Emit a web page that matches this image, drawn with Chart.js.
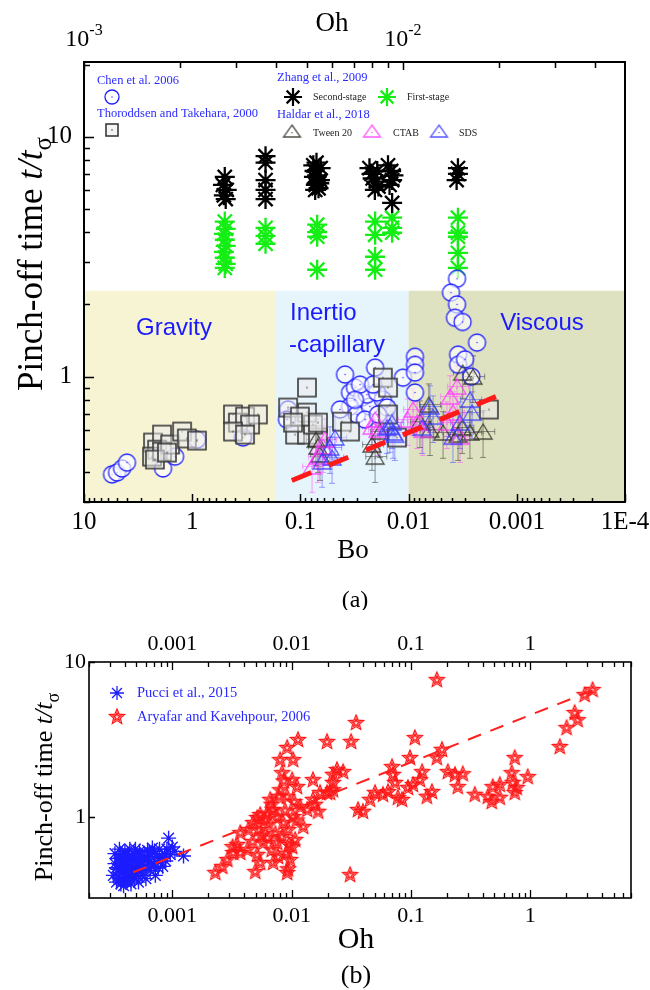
<!DOCTYPE html>
<html>
<head>
<meta charset="utf-8">
<script src="https://cdn.jsdelivr.net/npm/chart.js@4"></script>
<style>
  body { margin: 0; background: #fff; }
  #wrap { position: relative; width: 650px; height: 990px; }
  canvas { position: absolute; left: 0; }
  #chartA { top: 0; }
  #chartB { top: 610px; }
</style>
</head>
<body>
<div id="wrap">
  <canvas id="chartA" width="650" height="610"></canvas>
  <canvas id="chartB" width="650" height="380"></canvas>
</div>
<script>
// ---------- (a) pinch-off time t/t_sigma against Bond number ----------
// [Bo, t/t_sigma]
const chenData = [
  [5.51, 0.391], [4.95, 0.398], [4.45, 0.414], [4.01, 0.438],
  [1.86, 0.414], [1.44, 0.464], [0.904, 0.546], [0.339, 0.557],
  [0.130, 0.729], [0.133, 0.662],
  [0.0348, 0.858], [0.0313, 0.90], [0.0270, 0.818], [0.0348, 0.75], [0.030, 0.695],
  [0.0228, 0.75], [0.0243, 0.841], [0.0204, 1.09], [0.0173, 0.802], [0.0158, 0.743], [0.0196, 0.858],
  [0.0281, 0.926], [0.0213, 0.926], [0.0253, 0.662], [0.0192, 0.695], [0.0387, 1.02], [0.0313, 0.80],
  [0.0431, 0.729],
  [0.01127, 0.99], [0.00873, 1.21], [0.00873, 1.12], [0.00873, 1.04], [0.00873, 0.858],
  [0.00349, 1.235], [0.00349, 1.12], [0.00233, 1.386], [0.00301, 1.18], [0.00263, 1.0],
  [0.00357, 2.56], [0.00406, 2.24], [0.00357, 2.0], [0.00373, 1.76], [0.00317, 1.69]
];
const thoroddsenData = [
  [2.30, 0.531], [1.90, 0.573], [2.11, 0.496], [2.35, 0.464], [1.90, 0.487], [1.60, 0.521],
  [1.24, 0.59], [1.12, 0.552], [0.904, 0.541], [2.21, 0.451], [1.71, 0.482],
  [0.42, 0.695], [0.378, 0.643], [0.325, 0.681], [0.247, 0.695], [0.292, 0.631], [0.42, 0.59], [0.325, 0.573],
  [0.130, 0.743], [0.0869, 0.90], [0.112, 0.573], [0.0869, 0.573], [0.0688, 0.557], [0.0869, 0.708],
  [0.0765, 0.631], [0.101, 0.681], [0.117, 0.643], [0.0688, 0.643],
  [0.0413, 0.649], [0.0348, 0.59], [0.0173, 0.99], [0.0155, 0.90], [0.0155, 0.695], [0.0128, 0.557],
  [0.00181, 0.729]
];
const zhangSecond = [
  [0.50, 6.8], [0.52, 6.3], [0.48, 6.0], [0.51, 5.7], [0.49, 5.5],
  [0.21, 8.3], [0.21, 7.8], [0.21, 6.6], [0.21, 6.0], [0.21, 5.5],
  [0.076, 7.6], [0.074, 7.2], [0.070, 6.9], [0.066, 6.6], [0.072, 6.3], [0.068, 6.1],
  [0.075, 6.8], [0.065, 7.4], [0.071, 7.8], [0.067, 6.4], [0.073, 6.0],
  [0.023, 7.4], [0.022, 7.0], [0.020, 6.5], [0.019, 6.2], [0.0205, 6.0], [0.0215, 6.7], [0.0195, 7.2],
  [0.0155, 7.6], [0.0145, 7.2], [0.0138, 6.9], [0.0142, 6.6], [0.0150, 6.3], [0.0142, 5.3],
  [0.0035, 7.4], [0.0035, 7.0], [0.0036, 6.6]
];
const zhangFirst = [
  [0.50, 4.43], [0.49, 4.13], [0.51, 3.94], [0.50, 3.72], [0.49, 3.51], [0.51, 3.31], [0.50, 3.13], [0.49, 2.95], [0.50, 2.84],
  [0.21, 4.17], [0.21, 3.86], [0.21, 3.58],
  [0.070, 4.3], [0.070, 4.0], [0.070, 3.83], [0.070, 2.79],
  [0.0204, 4.43], [0.0204, 3.9], [0.0204, 3.16], [0.0204, 2.79],
  [0.0142, 4.6], [0.0142, 4.17], [0.0142, 3.98],
  [0.0035, 4.6], [0.0035, 3.98], [0.0035, 3.83], [0.0035, 3.28], [0.0035, 2.84]
];
const haldarTween = [
  [0.0204, 0.464], [0.0184, 0.59], [0.0218, 0.521], [0.0688, 0.511], [0.0659, 0.473], [0.0718, 0.546],
  [0.0065, 0.764], [0.00634, 0.601], [0.0048, 0.585], [0.0032, 0.613], [0.00271, 0.585], [0.00205, 0.59],
  [0.00316, 1.04], [0.00254, 1.0], [0.00785, 0.649], [0.00349, 0.573]
];
const haldarCtab = [
  [0.0688, 0.464], [0.0618, 0.511], [0.0593, 0.546], [0.078, 0.422],
  [0.0218, 0.619], [0.0204, 0.662], [0.0192, 0.601],
  [0.0091, 0.729], [0.00835, 0.643], [0.00736, 0.601], [0.0102, 0.662],
  [0.00414, 0.826], [0.00357, 0.909], [0.00389, 0.708], [0.00442, 0.643], [0.00335, 0.562]
];
const haldarSds = [
  [0.0479, 0.557], [0.0533, 0.506], [0.051, 0.46], [0.063, 0.443],
  [0.0158, 0.613], [0.0142, 0.643], [0.0139, 0.585], [0.0149, 0.619], [0.0134, 0.573],
  [0.00634, 0.75], [0.00594, 0.681], [0.0075, 0.613],
  [0.00271, 0.802], [0.00259, 0.708], [0.00335, 0.643], [0.00389, 0.562]
];
const haldarErrT = 0.22;
const haldarErrBo = 0.22;
const fitA = [[0.12, 0.369], [0.00156, 0.825]];
const regimeEdges = [10, 0.168, 0.01, 1e-4];
const regimeTop = 2.28;
const regimeNames = ['Gravity', 'Inertio', 'Viscous'];
const boTicks = [10, 1, 0.1, 0.01, 0.001, 1e-4];
const boTickLabels = ['10', '1', '0.1', '0.01', '0.001', '1E-4'];
const ohTopTicks = [1e-3, 1e-2];
const ohTopExps = ['-3', '-2'];
const tTicksA = [1, 10];

// ---------- (b) pinch-off time against Ohnesorge number ----------
// [Oh, t/t_sigma]
const pucciData = [
  [3.2e-4, 0.42], [3.3e-4, 0.50], [3.3e-4, 0.58], [3.4e-4, 0.38], [3.5e-4, 0.46], [3.5e-4, 0.54],
  [3.6e-4, 0.62], [3.6e-4, 0.40], [3.7e-4, 0.50], [3.8e-4, 0.44], [3.8e-4, 0.57], [3.9e-4, 0.36],
  [3.9e-4, 0.48], [4.0e-4, 0.60], [4.0e-4, 0.41], [4.1e-4, 0.53], [4.2e-4, 0.45], [4.2e-4, 0.39],
  [4.3e-4, 0.56], [4.3e-4, 0.49], [4.4e-4, 0.62], [4.5e-4, 0.43], [4.5e-4, 0.37], [4.6e-4, 0.52],
  [4.7e-4, 0.47], [4.8e-4, 0.58], [4.8e-4, 0.40], [4.9e-4, 0.44], [5.0e-4, 0.54], [5.1e-4, 0.49],
  [5.2e-4, 0.38], [5.3e-4, 0.60], [5.4e-4, 0.45], [5.5e-4, 0.52], [5.6e-4, 0.42], [5.8e-4, 0.56],
  [5.9e-4, 0.48], [6.0e-4, 0.40], [6.2e-4, 0.61], [6.3e-4, 0.51], [6.5e-4, 0.45], [6.6e-4, 0.57],
  [6.8e-4, 0.63], [7.0e-4, 0.50], [7.2e-4, 0.42], [7.5e-4, 0.55], [7.8e-4, 0.62], [8.0e-4, 0.52],
  [8.3e-4, 0.48], [8.6e-4, 0.58], [9.0e-4, 0.62], [9.3e-4, 0.73], [9.6e-4, 0.57], [1.0e-3, 0.64],
  [1.05e-3, 0.60], [1.24e-3, 0.56],
  [3.4e-4, 0.47], [3.5e-4, 0.41], [3.7e-4, 0.55], [3.7e-4, 0.37], [3.9e-4, 0.52], [4.0e-4, 0.45],
  [4.1e-4, 0.38], [4.2e-4, 0.58], [4.4e-4, 0.51], [4.4e-4, 0.41], [4.6e-4, 0.44], [4.7e-4, 0.55],
  [4.9e-4, 0.62], [5.0e-4, 0.42], [5.2e-4, 0.51], [5.4e-4, 0.57], [5.7e-4, 0.46], [6.1e-4, 0.53],
  [6.4e-4, 0.59], [6.7e-4, 0.48], [7.1e-4, 0.60], [7.6e-4, 0.47], [8.2e-4, 0.55], [8.8e-4, 0.52]
];
const aryafarData = [
  [2.29e-3, 0.435], [2.62e-3, 0.476], [2.89e-3, 0.528], [3.24e-3, 0.586], [3.50e-3, 0.660], [3.20e-3, 0.640],
  [3.71e-3, 0.788], [4.33e-3, 0.824], [4.76e-3, 0.915], [5.14e-3, 0.985], [5.45e-3, 1.03], [5.30e-3, 0.824],
  [4.70e-3, 0.690], [4.25e-3, 0.612], [3.71e-3, 0.586], [5.14e-3, 0.569], [5.45e-3, 0.505], [4.95e-3, 0.442],
  [5.78e-3, 0.680], [6.24e-3, 0.732], [6.40e-3, 0.888], [6.61e-3, 1.29], [7.00e-3, 1.11], [7.57e-3, 1.00],
  [8.01e-3, 1.49], [8.33e-3, 1.92], [8.01e-3, 2.33], [9.17e-3, 2.79], [1.13e-2, 3.14], [1.03e-2, 2.33],
  [1.01e-2, 1.73], [1.11e-2, 1.56], [9.17e-3, 1.35], [8.50e-3, 0.915], [8.33e-3, 0.743], [7.57e-3, 0.680],
  [6.80e-3, 0.612], [7.70e-3, 0.552], [7.00e-3, 0.505], [9.17e-3, 0.435], [9.30e-3, 0.460], [9.71e-3, 0.528],
  [1.01e-2, 0.640], [1.07e-2, 0.711], [9.35e-3, 0.824], [1.03e-2, 1.00], [1.18e-2, 1.16], [1.25e-2, 0.862],
  [1.35e-2, 1.11], [1.51e-2, 1.29], [1.51e-2, 1.73], [1.98e-2, 3.05], [2.22e-2, 1.87], [2.40e-2, 2.01],
  [1.73e-2, 1.43], [1.98e-2, 1.43], [2.22e-2, 1.49], [1.57e-2, 1.20], [1.67e-2, 1.08], [2.70e-2, 1.95],
  [2.22e-2, 1.66], [2.10e-2, 1.43], [3.47e-2, 4.04], [3.15e-2, 3.05], [3.09e-2, 0.422],
  [0.108, 3.23], [0.0982, 2.40], [0.165, 7.65], [0.165, 2.40], [0.182, 2.71], [0.0694, 2.10], [0.0707, 1.87],
  [0.124, 1.95], [0.119, 1.73], [0.036, 1.11], [0.0396, 1.08], [0.0454, 1.29], [0.050, 1.43], [0.0583, 1.39],
  [0.0642, 1.45], [0.0735, 1.66], [0.0778, 1.33], [0.0841, 1.29], [0.0944, 1.54], [0.104, 1.61], [0.136, 1.35],
  [0.150, 1.45], [0.204, 1.95], [0.234, 1.87], [0.247, 1.56], [0.272, 1.89], [0.343, 1.39], [0.441, 1.35],
  [0.476, 1.25], [0.485, 1.56], [0.556, 1.61], [0.556, 1.33], [0.700, 1.92], [0.742, 2.40], [0.714, 1.66],
  [0.771, 1.54], [0.742, 1.43], [0.953, 1.81], [1.77, 2.83], [2.02, 3.75], [2.36, 4.69], [2.50, 4.22],
  [2.86, 6.12], [3.33, 6.60],
  [6.0e-3, 0.95], [6.8e-3, 1.20], [7.3e-3, 0.78], [8.8e-3, 1.10], [9.5e-3, 0.66], [1.1e-2, 0.95],
  [5.6e-3, 0.76], [7.8e-3, 1.35], [8.6e-3, 1.70], [6.2e-3, 1.05], [9.0e-3, 0.58], [1.05e-2, 1.25]
];
const fitB = [[4.7e-4, 0.44], [3.4, 6.6]];
const ohTicksB = [0.001, 0.01, 0.1, 1];
const ohTickLabelsB = ['0.001', '0.01', '0.1', '1'];
const tTicksB = [1, 10];

const serif = '"Liberation Serif", "Times New Roman", serif';
const sans = '"Liberation Sans", Arial, sans-serif';
const regimeColors = ['#f7f4d4', '#e6f4fc', '#dfe2c0'];
const toXY = arr => arr.map(([x, y]) => ({ x, y }));

// marker images
function symbol(w, h, draw) {
  const c = document.createElement('canvas');
  c.width = w;
  c.height = h;
  draw(c.getContext('2d'), w / 2, h / 2);
  return c;
}
function circleMark(r) {
  const s = Math.ceil(2 * r + 4);
  return symbol(s, s, (g, cx, cy) => {
    g.beginPath();
    g.arc(cx, cy, r, 0, 2 * Math.PI);
    g.fillStyle = 'rgba(255,255,255,0.65)';
    g.fill();
    g.strokeStyle = '#1f1fff';
    g.lineWidth = 1.3;
    g.stroke();
    g.fillStyle = '#1f1fff';
    g.fillRect(cx - 0.6, cy - 0.6, 1.2, 1.2);
  });
}
function squareMark(a) {
  const s = Math.ceil(a + 4);
  return symbol(s, s, (g, cx, cy) => {
    g.fillStyle = 'rgba(235,235,235,0.55)';
    g.fillRect(cx - a / 2, cy - a / 2, a, a);
    g.strokeStyle = '#3a3a3a';
    g.lineWidth = 1.6;
    g.strokeRect(cx - a / 2, cy - a / 2, a, a);
    g.fillStyle = '#222';
    g.fillRect(cx - 0.6, cy - 0.6, 1.2, 1.2);
  });
}
function triangleMark(w, h, color) {
  return symbol(Math.ceil(w + 4), Math.ceil(h + 4), (g, cx, cy) => {
    g.beginPath();
    g.moveTo(cx, cy - h / 2);
    g.lineTo(cx + w / 2, cy + h / 2);
    g.lineTo(cx - w / 2, cy + h / 2);
    g.closePath();
    g.strokeStyle = color;
    g.lineWidth = 1.3;
    g.stroke();
    g.fillStyle = color;
    g.fillRect(cx - 0.6, cy + 1, 1.2, 1.2);
  });
}
function starMark(r) {
  const s = Math.ceil(2 * r + 4);
  return symbol(s, s, (g, cx, cy) => {
    const path = (ro, ri) => {
      g.beginPath();
      for (let k = 0; k < 10; k++) {
        const rr = k % 2 ? ri : ro;
        const ang = -Math.PI / 2 + k * Math.PI / 5;
        g.lineTo(cx + rr * Math.cos(ang), cy + rr * Math.sin(ang));
      }
      g.closePath();
    };
    path(r, r * 0.45);
    g.fillStyle = 'rgba(255,90,90,0.25)';
    g.fill();
    g.strokeStyle = '#ff1414';
    g.lineWidth = 1.2;
    g.stroke();
    path(r * 0.5, r * 0.22);
    g.stroke();
  });
}
const circleSym = circleMark(8.5);
const squareSym = squareMark(18);
const triTween = triangleMark(18, 15, 'rgba(50,50,40,0.85)');
const triCtab = triangleMark(18, 15, 'rgba(255,60,255,0.85)');
const triSds = triangleMark(18, 15, 'rgba(60,60,255,0.85)');
const starSym = starMark(8);

function asterisk(ctx, x, y, r, color, lw) {
  ctx.save();
  ctx.strokeStyle = color;
  ctx.lineWidth = lw;
  ctx.beginPath();
  for (let k = 0; k < 4; k++) {
    const dx = Math.cos(k * Math.PI / 4) * r, dy = Math.sin(k * Math.PI / 4) * r;
    ctx.moveTo(x - dx, y - dy);
    ctx.lineTo(x + dx, y + dy);
  }
  ctx.stroke();
  ctx.restore();
}
function put(ctx, img, x, y) {
  ctx.drawImage(img, x - img.width / 2, y - img.height / 2);
}
function text(ctx, str, x, y, font, color, align) {
  ctx.font = font;
  ctx.fillStyle = color || '#000';
  ctx.textAlign = align || 'center';
  ctx.textBaseline = 'middle';
  ctx.fillText(str, x, y);
}

// inward log ticks along one edge of the plot area
function logTicks(ctx, scale, edge, area, major, minor) {
  const lo = Math.min(scale.min, scale.max), hi = Math.max(scale.min, scale.max);
  ctx.beginPath();
  for (let d = Math.floor(Math.log10(lo)); d <= Math.ceil(Math.log10(hi)); d++) {
    for (let m = 1; m < 10; m++) {
      const v = m * Math.pow(10, d);
      if (v < lo * 0.999 || v > hi * 1.001) continue;
      const len = m === 1 ? major : minor;
      if (!len) continue;
      const p = Math.round(scale.getPixelForValue(v)) + 0.5;
      if (edge === 'bottom') { ctx.moveTo(p, area.bottom); ctx.lineTo(p, area.bottom - len); }
      if (edge === 'top') { ctx.moveTo(p, area.top); ctx.lineTo(p, area.top + len); }
      if (edge === 'left') { ctx.moveTo(area.left, p); ctx.lineTo(area.left + len, p); }
    }
  }
  ctx.stroke();
}

// "Pinch-off time t/t_sigma", rotated
function yTitle(ctx, cx, cy, size) {
  const parts = [
    { s: 'Pinch-off time ', f: `${size}px ${serif}`, dy: 0 },
    { s: 't/t', f: `italic ${size}px ${serif}`, dy: 0 },
    { s: 'σ', f: `${Math.round(size * 0.7)}px ${serif}`, dy: size * 0.28 }
  ];
  ctx.save();
  ctx.translate(cx, cy);
  ctx.rotate(-Math.PI / 2);
  ctx.fillStyle = '#000';
  ctx.textAlign = 'left';
  ctx.textBaseline = 'alphabetic';
  let total = 0;
  parts.forEach(p => { ctx.font = p.f; p.w = ctx.measureText(p.s).width; total += p.w; });
  let x = -total / 2;
  parts.forEach(p => { ctx.font = p.f; ctx.fillText(p.s, x, size * 0.33 + p.dy); x += p.w; });
  ctx.restore();
}

function logAxis(min, max, opts) {
  return Object.assign({
    type: 'logarithmic', min, max,
    grid: { display: false, drawTicks: false },
    border: { display: false }
  }, opts);
}

const plotA = {
  id: 'plotA',
  beforeDatasetsDraw(chart) {
    const { ctx, chartArea: a, scales: { x, y } } = chart;
    ctx.save();
    const top = y.getPixelForValue(regimeTop);
    for (let i = 0; i < regimeColors.length; i++) {
      const x0 = x.getPixelForValue(regimeEdges[i]);
      const x1 = x.getPixelForValue(regimeEdges[i + 1]);
      ctx.fillStyle = regimeColors[i];
      ctx.fillRect(x0, top, x1 - x0, a.bottom - top);
    }
    const blue = '#1a1aff';
    text(ctx, regimeNames[0], 174, 328, `24px ${sans}`, blue);
    text(ctx, regimeNames[1], 290, 313, `24px ${sans}`, blue, 'left');
    text(ctx, '-capillary', 289, 345, `24px ${sans}`, blue, 'left');
    text(ctx, regimeNames[2], 542, 323, `24px ${sans}`, blue);

    // error bars of the Haldar et al. series
    chart.data.datasets.forEach(ds => {
      if (!ds.errColor) return;
      ctx.strokeStyle = ds.errColor;
      ctx.lineWidth = 1;
      ctx.beginPath();
      ds.data.forEach(p => {
        const px = x.getPixelForValue(p.x), py = y.getPixelForValue(p.y);
        const yl = y.getPixelForValue(p.y * (1 - haldarErrT)), yh = y.getPixelForValue(p.y * (1 + haldarErrT));
        const xl = x.getPixelForValue(p.x * (1 - haldarErrBo)), xh = x.getPixelForValue(p.x * (1 + haldarErrBo));
        ctx.moveTo(px, yl); ctx.lineTo(px, yh);
        ctx.moveTo(xl, py); ctx.lineTo(xh, py);
        ctx.moveTo(px - 3, yl); ctx.lineTo(px + 3, yl);
        ctx.moveTo(px - 3, yh); ctx.lineTo(px + 3, yh);
        ctx.moveTo(xl, py - 3); ctx.lineTo(xl, py + 3);
        ctx.moveTo(xh, py - 3); ctx.lineTo(xh, py + 3);
      });
      ctx.stroke();
    });
    ctx.restore();
  },
  afterDraw(chart) {
    const { ctx, chartArea: a, scales } = chart;
    ctx.save();
    ctx.strokeStyle = '#000';
    ctx.lineWidth = 2;
    ctx.strokeRect(a.left, a.top, a.right - a.left, a.bottom - a.top);
    ctx.lineWidth = 1.5;
    logTicks(ctx, scales.x, 'bottom', a, 8, 4);
    logTicks(ctx, scales.xTop, 'top', a, 8, 6);
    logTicks(ctx, scales.y, 'left', a, 10, 6);

    // top Oh axis labels: 10^-3, 10^-2
    ohTopTicks.forEach((v, i) => {
      const px = scales.xTop.getPixelForValue(v);
      ctx.font = `24px ${serif}`;
      const wb = ctx.measureText('10').width;
      ctx.font = `16px ${serif}`;
      const we = ctx.measureText(ohTopExps[i]).width;
      const x0 = px - (wb + we) / 2;
      text(ctx, '10', x0, 40, `24px ${serif}`, '#000', 'left');
      text(ctx, ohTopExps[i], x0 + wb, 31, `16px ${serif}`, '#000', 'left');
    });
    text(ctx, 'Oh', 332, 24, `27px ${serif}`);
    text(ctx, 'Bo', 353, 551, `27px ${serif}`);
    text(ctx, '(a)', 355, 601, `24px ${serif}`);
    yTitle(ctx, 30, 264, 35);

    // legend
    const lb = '#2a2aff', lt = '#222';
    text(ctx, 'Chen et al. 2006', 97, 81, `12.5px ${serif}`, lb, 'left');
    put(ctx, circleMark(7), 112, 97);
    text(ctx, 'Thoroddsen and Takehara, 2000', 97, 114, `12.5px ${serif}`, lb, 'left');
    put(ctx, squareMark(12), 112, 130);
    text(ctx, 'Zhang et al., 2009', 277, 78, `12.5px ${serif}`, lb, 'left');
    asterisk(ctx, 293, 97, 9, '#000', 2.2);
    text(ctx, 'Second-stage', 313, 97, `10px ${serif}`, lt, 'left');
    asterisk(ctx, 387, 97, 9, '#14ee14', 2.2);
    text(ctx, 'First-stage', 407, 97, `10px ${serif}`, lt, 'left');
    text(ctx, 'Haldar et al., 2018', 277, 115, `12.5px ${serif}`, lb, 'left');
    put(ctx, triangleMark(17, 12, 'rgba(50,50,40,0.85)'), 292, 131);
    text(ctx, 'Tween 20', 313, 133, `10px ${serif}`, lt, 'left');
    put(ctx, triangleMark(17, 12, 'rgba(255,60,255,0.85)'), 372, 131);
    text(ctx, 'CTAB', 393, 133, `10px ${serif}`, lt, 'left');
    put(ctx, triangleMark(17, 12, 'rgba(60,60,255,0.85)'), 439, 131);
    text(ctx, 'SDS', 459, 133, `10px ${serif}`, lt, 'left');
    ctx.restore();
  }
};

new Chart(document.getElementById('chartA'), {
  type: 'scatter',
  data: {
    datasets: [
      { type: 'line', data: toXY(fitA), borderColor: '#ff1a1a', borderWidth: 5, borderDash: [21, 19],
        pointRadius: 0, fill: false, order: 0 },
      { data: toXY(haldarSds), pointStyle: triSds, pointRadius: 8, order: 1, errColor: 'rgba(80,80,255,0.55)' },
      { data: toXY(haldarCtab), pointStyle: triCtab, pointRadius: 8, order: 2, errColor: 'rgba(255,80,255,0.55)' },
      { data: toXY(haldarTween), pointStyle: triTween, pointRadius: 8, order: 3, errColor: 'rgba(60,60,60,0.55)' },
      { data: toXY(thoroddsenData), pointStyle: squareSym, pointRadius: 8, order: 4 },
      { data: toXY(chenData), pointStyle: circleSym, pointRadius: 8, order: 5 },
      { data: toXY(zhangSecond), pointStyle: 'star', pointRadius: 10, pointBorderColor: '#000',
        pointBorderWidth: 2.3, order: 6 },
      { data: toXY(zhangFirst), pointStyle: 'star', pointRadius: 10, pointBorderColor: '#14ee14',
        pointBorderWidth: 2.3, order: 7 }
    ]
  },
  options: {
    responsive: false,
    animation: false,
    devicePixelRatio: 1,
    layout: { padding: { right: 25 } },
    plugins: { legend: { display: false }, tooltip: { enabled: false } },
    scales: {
      x: logAxis(1e-4, 10, {
        position: 'bottom', reverse: true,
        ticks: { autoSkip: false, maxRotation: 0, padding: 5, color: '#000',
          font: { family: serif, size: 25 }, callback: (v, i) => boTickLabels[i] },
        afterBuildTicks: s => { s.ticks = boTicks.map(value => ({ value })); },
        afterFit: s => { s.height = 108; s.paddingLeft = 0; s.paddingRight = 0; }
      }),
      xTop: logAxis(1e-3, 0.0497, {
        position: 'top',
        ticks: { display: false },
        afterFit: s => { s.height = 62; s.paddingLeft = 0; s.paddingRight = 0; }
      }),
      y: logAxis(0.3, 20.5, {
        position: 'left',
        ticks: { autoSkip: false, padding: 12, color: '#000',
          font: { family: serif, size: 25 }, callback: (v, i) => String(tTicksA[i]) },
        afterBuildTicks: s => { s.ticks = tTicksA.map(value => ({ value })); },
        afterFit: s => { s.width = 84; s.paddingTop = 0; s.paddingBottom = 0; }
      })
    }
  },
  plugins: [plotA]
});

const plotB = {
  id: 'plotB',
  afterDraw(chart) {
    const { ctx, chartArea: a, scales } = chart;
    ctx.save();
    ctx.strokeStyle = '#000';
    ctx.lineWidth = 1.6;
    ctx.strokeRect(a.left, a.top, a.right - a.left, a.bottom - a.top);
    ctx.lineWidth = 1.3;
    logTicks(ctx, scales.x, 'bottom', a, 8, 5);
    logTicks(ctx, scales.xTop, 'top', a, 8, 5);
    logTicks(ctx, scales.y, 'left', a, 6, 0);
    text(ctx, 'Oh', 356, 330, `30px ${serif}`);
    text(ctx, '(b)', 356, 366, `26px ${serif}`);
    yTitle(ctx, 43, 177, 26);

    asterisk(ctx, 117, 83, 7, '#1c1cff', 1.3);
    text(ctx, 'Pucci et al., 2015', 137, 83, `14.5px ${serif}`, '#2828ff', 'left');
    put(ctx, starSym, 117, 107);
    text(ctx, 'Aryafar and Kavehpour, 2006', 137, 107, `14.5px ${serif}`, '#2828ff', 'left');
    ctx.restore();
  }
};

const ohAxisB = (position, height) => logAxis(2e-4, 7, {
  position,
  ticks: { autoSkip: false, maxRotation: 0, padding: 5, color: '#000',
    font: { family: serif, size: 22 }, callback: (v, i) => ohTickLabelsB[i] },
  afterBuildTicks: s => { s.ticks = ohTicksB.map(value => ({ value })); },
  afterFit: s => { s.height = height; s.paddingLeft = 0; s.paddingRight = 0; }
});

new Chart(document.getElementById('chartB'), {
  type: 'scatter',
  data: {
    datasets: [
      { type: 'line', data: toXY(fitB), borderColor: '#ff2020', borderWidth: 2, borderDash: [14, 10],
        pointRadius: 0, fill: false, order: 0 },
      { data: toXY(pucciData), pointStyle: 'star', pointRadius: 7.5, pointBorderColor: '#1c1cff',
        pointBorderWidth: 1.4, order: 1 },
      { data: toXY(aryafarData), pointStyle: starSym, pointRadius: 8, order: 2 }
    ]
  },
  options: {
    responsive: false,
    animation: false,
    devicePixelRatio: 1,
    layout: { padding: { right: 19 } },
    plugins: { legend: { display: false }, tooltip: { enabled: false } },
    scales: {
      x: ohAxisB('bottom', 92),
      xTop: ohAxisB('top', 52),
      y: logAxis(0.3, 10, {
        position: 'left',
        ticks: { autoSkip: false, padding: 3, color: '#000',
          font: { family: serif, size: 22 }, callback: (v, i) => String(tTicksB[i]) },
        afterBuildTicks: s => { s.ticks = tTicksB.map(value => ({ value })); },
        afterFit: s => { s.width = 89; s.paddingTop = 0; s.paddingBottom = 0; }
      })
    }
  },
  plugins: [plotB]
});
</script>
</body>
</html>
